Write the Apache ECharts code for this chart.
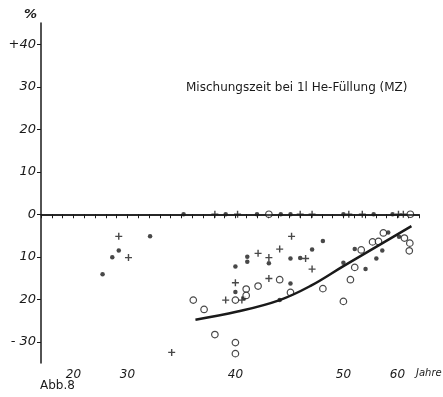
<!DOCTYPE html>
<html>
<head>
<meta charset="utf-8">
<script src="https://cdn.jsdelivr.net/npm/echarts@6/dist/echarts.min.js"></script>
<style>
  html, body { margin: 0; background: #fff; }
  #main { width: 443px; height: 397px; }
</style>
</head>
<body>
<div id="main"></div>
<script>
// age in years, change in %
const dotAge = [32.1, 28.4, 27.2, 25.4, 48.1, 58.3, 60.3, 41.1, 41.1, 43.1, 45.1, 46.0, 47.1, 40.0, 40.0, 40.8, 45.1, 44.1, 50.0, 54.1, 52.1, 56.1, 57.2];
const dotVal = [-5.2, -8.5, -10.1, -14.1, -6.3, -4.3, -5.3, -10.0, -11.2, -11.5, -10.4, -10.3, -8.3, -12.3, -18.3, -19.7, -16.3, -20.2, -11.4, -12.9, -8.2, -10.4, -8.5];
const plusAge = [28.4, 30.1, 34.1, 45.2, 44.1, 42.1, 43.1, 46.5, 47.1, 40.0, 39.1, 40.6, 43.1];
const plusVal = [-5.2, -10.2, -32.5, -5.2, -8.2, -9.2, -10.2, -10.4, -12.9, -16.1, -20.2, -20.2, -15.1];
const ringAge = [36.1, 37.1, 38.1, 40.0, 40.0, 57.4, 55.4, 56.5, 61.3, 62.3, 62.2, 41.0, 41.0, 40.0, 42.1, 44.1, 45.1, 48.1, 50.0, 51.3, 52.1, 53.3];
const ringVal = [-20.2, -22.4, -28.3, -30.2, -32.8, -4.4, -6.5, -6.4, -5.6, -6.8, -8.6, -17.6, -19.1, -20.2, -16.9, -15.4, -18.4, -17.5, -20.5, -15.4, -12.5, -8.4];
// marks lying on the 0 line
const zeroDotAge = [35.2, 39.1, 42.0, 44.2, 45.1, 50.0, 55.6, 59.1];
const zeroPlusAge = [38.1, 40.2, 46.0, 47.1, 51.0, 53.5, 60.2, 61.1];
const zeroRingAge = [43.1, 62.4];
// fitted curve
const curveAge = [36.3, 40.2, 44.1, 47.0, 50.0, 56.3, 62.6];
const curveVal = [-24.8, -22.9, -20.2, -16.8, -12.2, -7.5, -2.8];

const xLabelAges = [20, 30, 40, 50, 60];
const yTicks = [-30, -20, -10, 0, 10, 20, 30, 40];

// the age axis is compressed by half below 30 and above 50
const toAxis = a => a < 30 ? 30 - (30 - a) / 2 : a > 50 ? 50 + (a - 50) / 2 : a;
const toAge = u => u < 30 ? 30 - (30 - u) * 2 : u > 50 ? 50 + (u - 50) * 2 : u;

const pts = (ages, vals) => ages.map((a, i) => [toAxis(a), vals[i]]);
const zeros = ages => ages.map(a => [toAxis(a), 0]);

const ink = '#1a1a1a';
const plusPath = 'path://M4,0h2v4h4v2h-4v4h-2v-4h-4v-2h4z';

const chart = echarts.init(document.getElementById('main'));
chart.setOption({
  backgroundColor: '#fff',
  animation: false,
  title: {
    text: 'Mischungszeit bei 1l He-Füllung (MZ)',
    left: 181, top: 77,
    textStyle: { fontFamily: 'DejaVu Sans', fontSize: 12, fontWeight: 'normal', color: ink }
  },
  grid: { left: 41, right: 24, top: 23, bottom: 34 },
  xAxis: {
    type: 'value', min: 22, max: 57, interval: 1,
    axisLine: { lineStyle: { color: ink, width: 1.5 } },
    axisTick: { length: 4, lineStyle: { color: ink } },
    splitLine: { show: false },
    axisLabel: {
      customValues: xLabelAges.map(toAxis),
      formatter: v => String(Math.round(toAge(v))),
      fontFamily: 'DejaVu Sans', fontStyle: 'italic', fontSize: 12, color: ink, margin: 6
    }
  },
  yAxis: {
    type: 'value', min: -35, max: 45,
    axisLine: { show: true, lineStyle: { color: ink, width: 1.5 } },
    axisTick: { show: true, customValues: yTicks, length: 4, lineStyle: { color: ink } },
    splitLine: { show: false },
    axisLabel: {
      customValues: yTicks,
      formatter: v => v === 40 ? '+40' : v === -30 ? '- 30' : String(Math.abs(v)),
      fontFamily: 'DejaVu Sans', fontStyle: 'italic', fontSize: 13, color: ink, margin: 5
    }
  },
  graphic: [
    { type: 'text', left: 24, top: 8, style: { text: '%', font: 'italic bold 13px DejaVu Sans', fill: ink } },
    { type: 'text', left: 416, top: 368, style: { text: 'Jahre', font: 'italic 10px DejaVu Sans', fill: ink } },
    { type: 'text', left: 40, top: 380, style: { text: 'Abb.8', font: '12px DejaVu Sans', fill: ink } }
  ],
  series: [
    {
      type: 'line', data: pts(curveAge, curveVal), smooth: 0.4, showSymbol: false,
      lineStyle: { color: ink, width: 2.5 },
      markLine: {
        silent: true, symbol: 'none', label: { show: false },
        lineStyle: { color: ink, width: 1.5, type: 'solid' },
        data: [{ yAxis: 0 }]
      }
    },
    { type: 'scatter', data: pts(dotAge, dotVal).concat(zeros(zeroDotAge)), symbol: 'circle', symbolSize: 4.5,
      itemStyle: { color: ink } },
    { type: 'scatter', data: pts(plusAge, plusVal).concat(zeros(zeroPlusAge)), symbol: plusPath, symbolSize: 7,
      itemStyle: { color: ink } },
    { type: 'scatter', data: pts(ringAge, ringVal).concat(zeros(zeroRingAge)), symbol: 'circle', symbolSize: 6.5,
      itemStyle: { color: '#fff', borderColor: ink, borderWidth: 1.2 } }
  ]
});
</script>
</body>
</html>
